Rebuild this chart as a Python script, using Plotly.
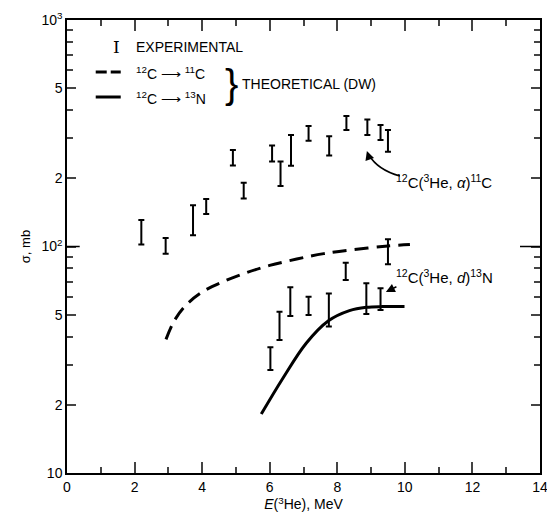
import plotly.graph_objects as go

# ---- data ----
# 12C(3He, alpha)11C experimental: energy, lower and upper error-bar limits (mb)
alpha_E = [2.20, 2.92, 3.73, 4.12, 4.91, 5.23, 6.07, 6.32, 6.63, 7.15, 7.76, 8.27, 8.89, 9.28, 9.50]
alpha_lo = [102, 93, 112, 139, 228, 163, 237, 185, 227, 293, 252, 327, 311, 295, 262]
alpha_hi = [131, 109, 152, 162, 267, 191, 279, 237, 311, 340, 307, 377, 364, 344, 327]

# 12C(3He, d)13N experimental
d_E = [6.02, 6.29, 6.61, 7.15, 7.75, 8.25, 8.86, 9.28, 9.50]
d_lo = [28.5, 38.7, 49.3, 49.9, 44.3, 71.1, 50.4, 52.5, 83.5]
d_hi = [35.9, 51.5, 66.0, 60.0, 62.0, 84.8, 68.8, 65.4, 107.6]

# DW theory curves
th11_E = [2.93, 3.19, 3.53, 4.02, 4.62, 5.31, 6.0, 6.8, 7.6, 8.5, 9.5, 10.15]
th11_s = [38.9, 47.4, 55.2, 63.2, 69.9, 76.6, 82.5, 88.0, 93.0, 97.0, 100.5, 102.0]
th13_E = [5.75, 6.39, 7.08, 7.74, 8.36, 8.86, 9.35, 9.99]
th13_s = [18.2, 26.2, 37.4, 47.0, 52.1, 53.9, 54.3, 54.3]

x_ticks = [0, 2, 4, 6, 8, 10, 12, 14]
y_ticks = [10, 20, 50, 100, 200, 500, 1000]
y_ticktext = ["10", "2", "5", "10<sup>2</sup>", "2", "5", "10<sup>3</sup>"]
y_minor = [30, 40, 60, 70, 80, 90, 300, 400, 600, 700, 800, 900]

FONT = "Liberation Sans"

# plot-area pixel geometry helpers (for placing text in paper coords)
L, R, T, B = 67.3, 540.0, 20.0, 473.0
def px(xp):
    return (xp - L) / (R - L)
def py(yp):
    return (B - yp) / (B - T)

fig = go.Figure()

def err_trace(E, lo, hi):
    mid = [(a + b) / 2 for a, b in zip(lo, hi)]
    plus = [h - m for h, m in zip(hi, mid)]
    minus = [m - l for m, l in zip(mid, lo)]
    return go.Scatter(
        x=E, y=mid, mode="markers",
        marker=dict(size=1, color="rgba(0,0,0,0)"),
        error_y=dict(type="data", array=plus, arrayminus=minus, symmetric=False,
                     color="black", thickness=2, width=3),
        showlegend=False, hoverinfo="skip")

fig.add_trace(err_trace(alpha_E, alpha_lo, alpha_hi))
fig.add_trace(err_trace(d_E, d_lo, d_hi))

fig.add_trace(go.Scatter(x=th11_E, y=th11_s, mode="lines",
                         line=dict(color="black", width=3, dash="14px,8px", shape="spline",
                                   smoothing=1.0),
                         showlegend=False, hoverinfo="skip"))
fig.add_trace(go.Scatter(x=th13_E, y=th13_s, mode="lines",
                         line=dict(color="black", width=3, shape="spline", smoothing=1.0),
                         showlegend=False, hoverinfo="skip"))

# legend drawn by hand
shapes = [
    dict(type="line", xref="paper", yref="paper", x0=px(96), x1=px(107), y0=py(72), y1=py(72),
         line=dict(color="black", width=3)),
    dict(type="line", xref="paper", yref="paper", x0=px(111), x1=px(121), y0=py(72), y1=py(72),
         line=dict(color="black", width=3)),
    dict(type="line", xref="paper", yref="paper", x0=px(96), x1=px(121), y0=py(97), y1=py(97),
         line=dict(color="black", width=3)),
    # curved arrow line toward alpha data
    dict(type="path", xref="paper", yref="paper",
         path=f"M {px(400)} {py(176)} Q {px(378)} {py(170)} {px(369)} {py(155)}",
         line=dict(color="black", width=1.5)),
    # long ticks at 10^2 on both sides
    dict(type="line", xref="paper", yref="y", x0=0, x1=px(80), y0=100, y1=100,
         line=dict(color="black", width=1.5)),
    dict(type="line", xref="paper", yref="y", x0=px(520), x1=1, y0=100, y1=100,
         line=dict(color="black", width=1.5)),
]

ann = [
    dict(text="I", x=px(111), y=py(47), font=dict(family="DejaVu Serif", size=17)),
    dict(text="EXPERIMENTAL", x=px(134), y=py(47), xanchor="left"),
    dict(text="<sup>12</sup>C \u27f6 <sup>11</sup>C", x=px(134), y=py(73), xanchor="left"),
    dict(text="<sup>12</sup>C \u27f6 <sup>13</sup>N", x=px(134), y=py(98), xanchor="left"),
    dict(text="}", x=px(232), y=py(84), font=dict(family=FONT, size=40)),
    dict(text="THEORETICAL (DW)", x=px(240), y=py(84), xanchor="left"),
    dict(text="<sup>12</sup>C(<sup>3</sup>He, <i>\u03b1</i>)<sup>11</sup>C", x=px(394), y=py(181),
         xanchor="left", font=dict(size=15)),
    dict(text="<sup>12</sup>C(<sup>3</sup>He, <i>d</i>)<sup>13</sup>N", x=px(394), y=py(276),
         xanchor="left", font=dict(size=15)),
]
annotations = []
for a in ann:
    d = dict(xref="paper", yref="paper", showarrow=False, yanchor="middle",
             font=dict(family=FONT, size=14, color="black"))
    d.update(a)
    if "font" in a:
        f = dict(family=FONT, size=14, color="black")
        f.update(a["font"])
        d["font"] = f
    annotations.append(d)

# arrowheads
annotations.append(dict(xref="paper", yref="paper", x=px(367), y=py(151), ax=3, ay=9,
                        text="", showarrow=True, arrowhead=2, arrowsize=1.2, arrowwidth=1.5,
                        arrowcolor="black"))
annotations.append(dict(xref="paper", yref="paper", x=px(386), y=py(292), ax=12, ay=-6,
                        text="", showarrow=True, arrowhead=2, arrowsize=1.2, arrowwidth=1.5,
                        arrowcolor="black"))

fig.update_layout(
    width=547, height=521,
    margin=dict(l=67, r=7, t=20, b=48, autoexpand=False),
    paper_bgcolor="white", plot_bgcolor="white",
    font=dict(family=FONT, size=14, color="black"),
    shapes=shapes, annotations=annotations,
    showlegend=False,
)

fig.update_xaxes(
    range=[0, 14], tickvals=x_ticks, ticks="inside", ticklen=11, tickwidth=1.5,
    minor=dict(ticks="inside", ticklen=6, tickwidth=1.5, dtick=1, tick0=0, showgrid=False),
    showline=True, linecolor="black", linewidth=1.5, mirror="ticks",
    showgrid=False, zeroline=False, automargin=False, ticklabeloverflow="allow",
    tickfont=dict(size=14),
    title=dict(text="<i>E</i>(<sup>3</sup>He), MeV", font=dict(size=14), standoff=4),
)
fig.update_yaxes(
    type="log", range=[1, 3], tickvals=y_ticks, ticktext=y_ticktext,
    ticks="inside", ticklen=9, tickwidth=1.5,
    minor=dict(ticks="inside", ticklen=6, tickwidth=1.5, tickvals=y_minor, showgrid=False),
    showline=True, linecolor="black", linewidth=1.5, mirror="ticks",
    showgrid=False, zeroline=False, automargin=False, ticklabeloverflow="allow",
    tickfont=dict(size=14),
    title=dict(text="\u03c3, mb", font=dict(size=13), standoff=8),
)

fig.write_html("out.html")
